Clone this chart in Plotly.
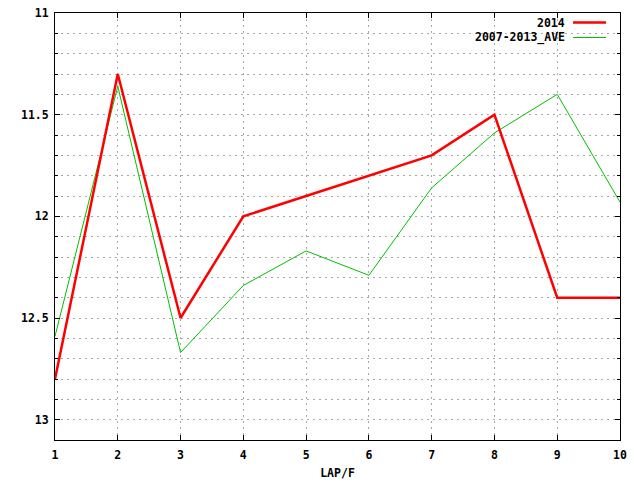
import plotly.graph_objects as go

laps = [1, 2, 3, 4, 5, 6, 7, 8, 9, 10]
times_2014 = [12.8, 11.3, 12.5, 12.0, 11.9, 11.8, 11.7, 11.5, 12.4, 12.4]
times_ave = [12.59, 11.36, 12.67, 12.34, 12.17, 12.29, 11.86, 11.59, 11.40, 11.93]
y_ticks = [11, 11.5, 12, 12.5, 13]
y_tick_text = ["11", "11.5", "12", "12.5", "13"]

FONT = dict(family="DejaVu Sans Mono", size=11.5, color="black", weight="bold")
GRID = dict(showgrid=True, gridcolor="#a8a8a8", griddash="2px,4px", gridwidth=1)

fig = go.Figure()
fig.add_trace(go.Scatter(x=laps, y=times_ave, mode="lines", name="2007-2013_AVE",
                         line=dict(color="#00c000", width=1), showlegend=False))
fig.add_trace(go.Scatter(x=laps, y=times_2014, mode="lines", name="2014",
                         line=dict(color="#ff0000", width=2.5), showlegend=False))

# Legend drawn gnuplot-style: right-aligned text with sample line to the right
def px_x(px):
    return (px - 55) / 565.0

def px_y(py):
    return (440 - py) / 427.0

legend_items = [("2014", "#ff0000", 2.5, 22.5), ("2007-2013_AVE", "#00c000", 1, 37.5)]
for label, color, w, py in legend_items:
    fig.add_annotation(x=px_x(566), y=px_y(py), xref="paper", yref="paper", text=label,
                       showarrow=False, xanchor="right", yanchor="middle", font=FONT,
                       borderpad=0)
    fig.add_shape(type="line", xref="paper", yref="paper", x0=px_x(573), x1=px_x(606),
                  y0=px_y(py), y1=px_y(py), line=dict(color=color, width=w))

fig.update_layout(
    width=640, height=480,
    margin=dict(l=55, r=20, t=13, b=40, autoexpand=False),
    plot_bgcolor="white", paper_bgcolor="white",
    font=FONT,
    showlegend=False,
)
fig.update_xaxes(
    range=[1, 10], tickmode="linear", tick0=1, dtick=1,
    showline=True, linecolor="black", linewidth=1, mirror="ticks",
    ticks="inside", ticklen=5, tickcolor="black",
    zeroline=False, automargin=False,
    ticklabelstandoff=4,
    title=dict(text="LAP/F", font=FONT, standoff=10),
    tickfont=FONT,
    **GRID,
)
fig.update_yaxes(
    range=[13.1, 11], tickmode="array", tickvals=y_ticks, ticktext=y_tick_text,
    showline=True, linecolor="black", linewidth=1, mirror="ticks",
    ticks="inside", ticklen=5, tickcolor="black",
    minor=dict(dtick=0.1, tick0=11, ticks="inside", ticklen=3, tickcolor="black", **GRID),
    zeroline=False, automargin=False,
    ticklabelstandoff=3,
    tickfont=FONT,
    **GRID,
)

fig.write_html("out.html", config={"displayModeBar": False},
               post_script="document.body.style.margin='0';document.body.style.overflow='hidden';")
